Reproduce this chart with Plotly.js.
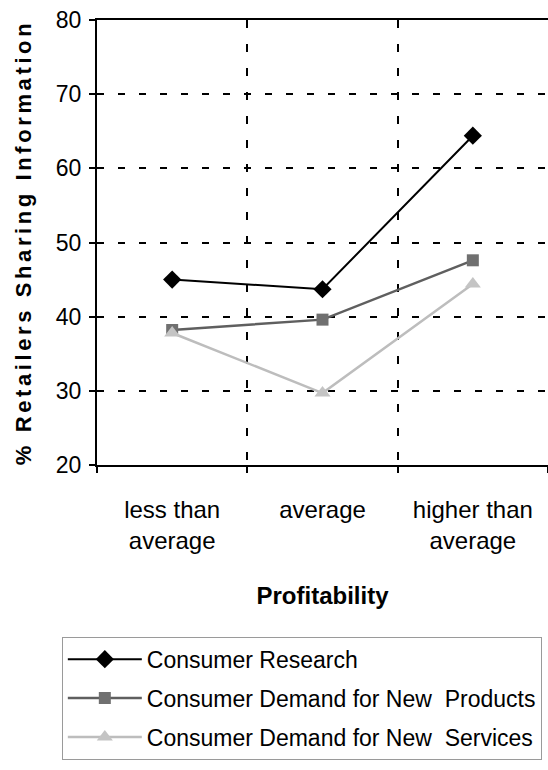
<!DOCTYPE html>
<html>
<head>
<meta charset="utf-8">
<script src="https://cdn.plot.ly/plotly-3.0.1.min.js"></script>
<style>
html,body{margin:0;padding:0;background:#fff;}
#chart{width:548px;height:770px;}
#chart .ytitle{letter-spacing:3.6px;}
</style>
</head>
<body>
<div id="chart"></div>
<script>
var categories = ["less than<br>average", "average", "higher than<br>average"];
var seriesNames = ["Consumer Research", "Consumer Demand for New  Products", "Consumer Demand for New  Services"];
var consumerResearch = [45, 43.7, 64.4];
var newProducts = [38.2, 39.6, 47.6];
var newServices = [37.8, 29.7, 44.4];
var yTicks = [20, 30, 40, 50, 60, 70, 80];

var traces = [
  {x: categories, y: consumerResearch, name: seriesNames[0], legendgroup: "a", type: "scatter", mode: "lines+markers",
   line: {color: "#000000", width: 2}, marker: {symbol: "diamond", size: 14, color: "#000000"}},
  {x: categories, y: newProducts, name: seriesNames[1], legendgroup: "b", type: "scatter", mode: "lines+markers",
   line: {color: "#5f5f5f", width: 2.5}, marker: {symbol: "square", size: 12, color: "#707070"}},
  {x: categories, y: newServices, name: seriesNames[2], legendgroup: "c", type: "scatter", mode: "lines+markers",
   line: {color: "#bdbdbd", width: 2.5}, marker: {symbol: "triangle-up", size: 14, color: "#c4c4c4"}}
];

var layout = {
  width: 548, height: 770,
  margin: {l: 97, r: 0, t: 20, b: 305},
  paper_bgcolor: "#ffffff", plot_bgcolor: "#ffffff",
  font: {family: "Liberation Sans, Arial, sans-serif", color: "#000000"},
  showlegend: true,
  legend: {
    x: -0.078, xanchor: "left", y: -0.386, yanchor: "top",
    bordercolor: "#9a9a9a", borderwidth: 1, bgcolor: "#ffffff",
    font: {family: "Liberation Sans, Arial", size: 23, color: "#000"},
    itemwidth: 74, tracegroupgap: 6
  },
  xaxis: {
    type: "category", range: [-0.5, 2.5],
    tickson: "boundaries",
    showline: true, linecolor: "#000", linewidth: 2, mirror: true,
    ticks: "outside", ticklen: 6, tickcolor: "#000", tickwidth: 2,
    ticklabelstandoff: 22,
    showgrid: true, gridcolor: "#000", gridwidth: 2, griddash: "8px,16px",
    tickfont: {family: "Liberation Sans, Arial", size: 24, color: "#000"},
    title: {text: "<b>Profitability</b>", font: {family: "Liberation Sans, Arial", size: 24, color: "#000"}, standoff: 34},
    zeroline: false, fixedrange: true
  },
  yaxis: {
    range: [20, 80], tickvals: yTicks, ticktext: yTicks.map(String),
    showline: true, linecolor: "#000", linewidth: 2, mirror: false,
    ticks: "outside", ticklen: 6, tickcolor: "#000", tickwidth: 2,
    ticklabelstandoff: 3,
    showgrid: true, gridcolor: "#000", gridwidth: 2, griddash: "7px,14px",
    tickfont: {family: "Liberation Sans", size: 23, color: "#000"},
    title: {text: "<b>% Retailers Sharing Information</b>", font: {family: "Liberation Sans", size: 22, color: "#000"}, standoff: 18},
    zeroline: false, fixedrange: true
  }
};

Plotly.newPlot("chart", traces, layout, {staticPlot: true, displayModeBar: false});
</script>
</body>
</html>
